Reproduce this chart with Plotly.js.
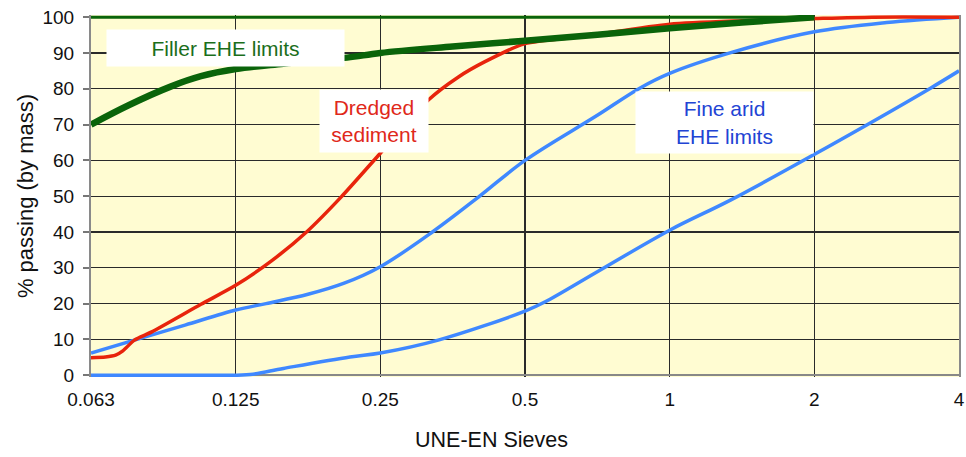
<!DOCTYPE html>
<html>
<head>
<meta charset="utf-8">
<script src="https://cdn.plot.ly/plotly-3.0.1.min.js"></script>
<style>
  html, body { margin: 0; padding: 0; background: #ffffff; }
  #chart { width: 966px; height: 457px; }
</style>
</head>
<body>
<div id="chart"></div>
<script>
// Sieve sizes (mm), evenly spaced on the chart (log scale of sieve series)
const sieveLabels = ['0.063', '0.125', '0.25', '0.5', '1', '2', '4'];
const sievePos = [0, 1, 2, 3, 4, 5, 6];
const yTicks = [0, 10, 20, 30, 40, 50, 60, 70, 80, 90, 100];

// Filler EHE limits (lower and upper)
const fillerLowerPos = [0, 0.26, 0.55, 0.76, 1, 1.33, 1.77, 2, 2.5, 3, 3.5, 4, 4.5, 5];
const fillerLowerVal = [70, 75.4, 80.6, 83.5, 85.5, 87, 88.7, 90, 91.8, 93.4, 95.1, 96.9, 98.5, 100];
const fillerUpperPos = [0, 5];
const fillerUpperVal = [100, 100];

// Dredged sediment grading curve
const dredgedPos = [0, 0.1, 0.17, 0.22, 0.3, 0.42, 0.76, 1, 1.25, 1.49, 1.73, 2, 2.33, 2.54, 2.72, 3, 3.4, 4, 4.5, 5, 5.4, 6];
const dredgedVal = [4.9, 5.1, 5.6, 6.8, 9.8, 12.1, 19.8, 25.1, 32, 40, 49.8, 62, 76.8, 83.3, 87.5, 92.6, 94.6, 98, 99, 99.6, 100, 100];

// Fine arid EHE limits (upper and lower)
const fineUpperPos = [0, 0.3, 0.65, 1, 1.21, 1.5, 1.75, 2, 2.36, 2.68, 3, 3.5, 3.79, 4, 4.44, 5, 5.5, 6];
const fineUpperVal = [6.2, 9.8, 14, 18.2, 20, 22.6, 25.7, 30.3, 40, 49.8, 60, 72.6, 80.1, 84.3, 90.3, 95.9, 98.5, 100];
const fineLowerPos = [0, 0.5, 0.9, 1.1, 1.33, 1.79, 2, 2.4, 3, 3.14, 3.5, 4, 4.42, 4.97, 5.8, 6];
const fineLowerVal = [0, 0, 0, 0.2, 1.9, 5.1, 6.2, 9.8, 17.9, 20.5, 28.9, 40.5, 48.9, 61, 80.1, 85];

const FONT = 'Liberation Sans, Arial, Helvetica, sans-serif';
const GREEN = '#0a640a';
const RED = '#e8240c';
const BLUE = '#3f88ff';

const traces = [
  { x: fineLowerPos, y: fineLowerVal, mode: 'lines', name: 'Fine arid EHE lower',
    line: { color: BLUE, width: 3.5, shape: 'spline', smoothing: 1 } },
  { x: fineUpperPos, y: fineUpperVal, mode: 'lines', name: 'Fine arid EHE upper',
    line: { color: BLUE, width: 3.5, shape: 'spline', smoothing: 1 } },
  { x: dredgedPos, y: dredgedVal, mode: 'lines', name: 'Dredged sediment',
    line: { color: RED, width: 3.5, shape: 'spline', smoothing: 0.7 } },
  { x: fillerLowerPos, y: fillerLowerVal, mode: 'lines', name: 'Filler EHE lower',
    line: { color: GREEN, width: 6.5, shape: 'spline', smoothing: 1 } },
  { x: fillerUpperPos, y: fillerUpperVal, mode: 'lines', name: 'Filler EHE upper',
    line: { color: GREEN, width: 3, shape: 'linear' } }
];

const layout = {
  width: 966,
  height: 457,
  margin: { l: 91, r: 7, t: 15, b: 80 },
  paper_bgcolor: '#ffffff',
  plot_bgcolor: '#fffcd2',
  showlegend: false,
  font: { family: FONT, size: 19, color: '#111111' },
  xaxis: {
    range: [0, 6],
    tickvals: sievePos,
    ticktext: sieveLabels,
    showgrid: true,
    gridcolor: '#2a2a2a',
    gridwidth: 1.3,
    zeroline: false,
    showline: false,
    ticks: '',
    ticklabelstandoff: 9,
    ticklabeloverflow: 'allow',
    tickfont: { family: FONT, size: 19, color: '#111111' }
  },
  yaxis: {
    range: [-0.5, 100.6],
    tickvals: yTicks,
    showgrid: true,
    gridcolor: '#2a2a2a',
    gridwidth: 1.3,
    zeroline: true,
    zerolinecolor: '#888888',
    zerolinewidth: 2,
    showline: true,
    mirror: true,
    linecolor: '#8a8a8a',
    linewidth: 2,
    ticks: 'outside',
    ticklen: 6,
    tickwidth: 2,
    tickcolor: '#777777',
    ticklabelstandoff: 5,
    tickfont: { family: FONT, size: 19, color: '#111111' },
    title: { text: '% passing (by mass)', standoff: 3, font: { family: FONT, size: 22, color: '#111111' } }
  },
  annotations: [
    { xref: 'paper', yref: 'paper', x: 0.461, y: -0.174, xanchor: 'center', yanchor: 'middle',
      text: 'UNE-EN Sieves', showarrow: false, font: { family: FONT, size: 21.5, color: '#111111' } },
    { xref: 'x', yref: 'y', x: 0.93, y: 91.35, xanchor: 'center', yanchor: 'middle',
      width: 237, height: 36, bgcolor: '#ffffff', borderpad: 0, showarrow: false,
      text: 'Filler EHE limits', font: { family: FONT, size: 21, color: '#1b6e1b' } },
    { xref: 'x', yref: 'y', x: 1.955, y: 71.1, xanchor: 'center', yanchor: 'middle',
      width: 108, height: 62, bgcolor: '#ffffff', borderpad: 0, showarrow: false,
      text: 'Dredged<br>sediment', font: { family: FONT, size: 21, color: '#e0281a' } },
    { xref: 'x', yref: 'y', x: 4.38, y: 70.65, xanchor: 'center', yanchor: 'middle',
      width: 177, height: 61, bgcolor: '#ffffff', borderpad: 0, showarrow: false,
      text: 'Fine arid<br>EHE limits', font: { family: FONT, size: 21, color: '#2244d4' } }
  ]
};

Plotly.newPlot('chart', traces, layout, { displayModeBar: false, staticPlot: true });
</script>
</body>
</html>
